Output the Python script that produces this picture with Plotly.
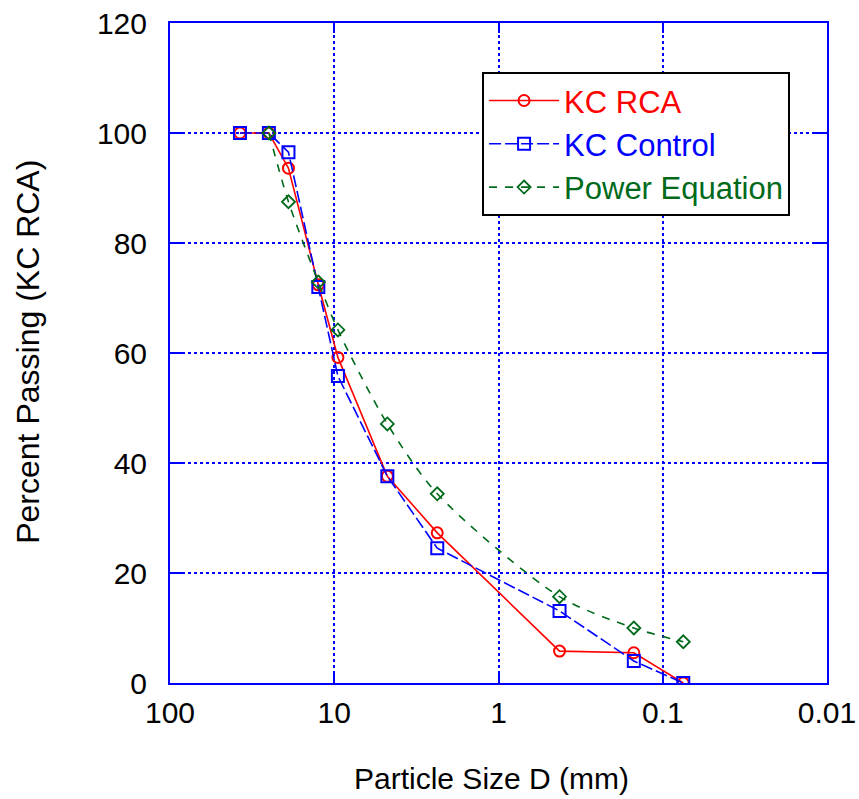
import plotly.graph_objects as go

sizes_rca = [37.5, 25, 19, 12.5, 9.5, 4.75, 2.36, 0.425, 0.15, 0.075]
pass_rca = [100, 100, 93.6, 72.4, 59.2, 37.6, 27.3, 5.8, 5.5, 0]

sizes_ctrl = [37.5, 25, 19, 12.5, 9.5, 4.75, 2.36, 0.425, 0.15, 0.075]
pass_ctrl = [100, 100, 96.5, 72, 55.8, 37.6, 24.5, 13.1, 4.0, 0]

sizes_pow = [25, 19, 12.5, 9.5, 4.75, 2.36, 0.425, 0.15, 0.075]
pass_pow = [100, 87.5, 72.9, 64.2, 47.1, 34.4, 15.7, 10.0, 7.5]

x_ticks = [100, 10, 1, 0.1, 0.01]
x_ticktext = ["100", "10", "1", "0.1", "0.01"]
y_ticks = [0, 20, 40, 60, 80, 100, 120]

RED = "#ff0000"
BLUE = "#0000ff"
GREEN = "#006a1a"
FONT = "Arial, Liberation Sans, sans-serif"

fig = go.Figure()
fig.add_trace(go.Scatter(
    x=sizes_rca, y=pass_rca, mode="lines+markers",
    name='<span style="color:#ff0000">KC RCA</span>',
    line=dict(color=RED, width=1.6),
    marker=dict(symbol="circle-open", size=11, color=RED, line=dict(width=2, color=RED)),
))
fig.add_trace(go.Scatter(
    x=sizes_ctrl, y=pass_ctrl, mode="lines+markers",
    name='<span style="color:#0000ff">KC Control</span>',
    line=dict(color=BLUE, width=1.6, dash="12px,4px"),
    marker=dict(symbol="square-open", size=12, color=BLUE, line=dict(width=2, color=BLUE)),
))
fig.add_trace(go.Scatter(
    x=sizes_pow, y=pass_pow, mode="lines+markers",
    name='<span style="color:#006a1a">Power Equation</span>',
    line=dict(color=GREEN, width=1.6, dash="8px,8px", shape="spline", smoothing=0.8),
    marker=dict(symbol="diamond-open", size=10, color=GREEN, line=dict(width=1.8, color=GREEN)),
))

fig.update_layout(
    width=859, height=799,
    margin=dict(l=170, r=32, t=23, b=116, autoexpand=False),
    plot_bgcolor="white", paper_bgcolor="white",
    font=dict(family=FONT, color="black"),
    legend=dict(
        x=0.475, y=0.926, xanchor="left", yanchor="top",
        bordercolor="black", borderwidth=2, bgcolor="white",
        font=dict(size=31, family=FONT),
        itemwidth=70,
        entrywidth=240,
    ),
    showlegend=True,
    annotations=[
        dict(text="Particle Size D (mm)", xref="paper", yref="paper",
             x=0.49, y=-0.144, xanchor="center", yanchor="middle", showarrow=False,
             font=dict(size=30, family=FONT, color="black")),
        dict(text="Percent Passing (KC RCA)", xref="paper", yref="paper",
             x=-0.216, y=0.502, xanchor="center", yanchor="middle", showarrow=False,
             textangle=-90, font=dict(size=32, family=FONT, color="black")),
    ],
)
fig.update_xaxes(
    type="log", range=[2, -2], autorange=False, automargin=False,
    tickvals=x_ticks, ticktext=x_ticktext,
    tickfont=dict(size=30, family=FONT, color="black"),
    ticks="inside", ticklen=10, tickwidth=1.5, tickcolor=BLUE,
    showline=True, linecolor=BLUE, linewidth=2, mirror="ticks",
    showgrid=True, gridcolor=BLUE, gridwidth=1.5, griddash="3px,3px",
    zeroline=False,
    ticklabelstandoff=2,
)
fig.update_yaxes(
    range=[0, 120], autorange=False, automargin=False,
    tickvals=y_ticks,
    tickfont=dict(size=30, family=FONT, color="black"),
    ticks="inside", ticklen=12, tickwidth=1.5, tickcolor=BLUE,
    showline=True, linecolor=BLUE, linewidth=2, mirror="ticks",
    showgrid=True, gridcolor=BLUE, gridwidth=1.5, griddash="3px,3px",
    zeroline=False,
    ticklabelstandoff=15,
)

fig.write_html("out.html")
